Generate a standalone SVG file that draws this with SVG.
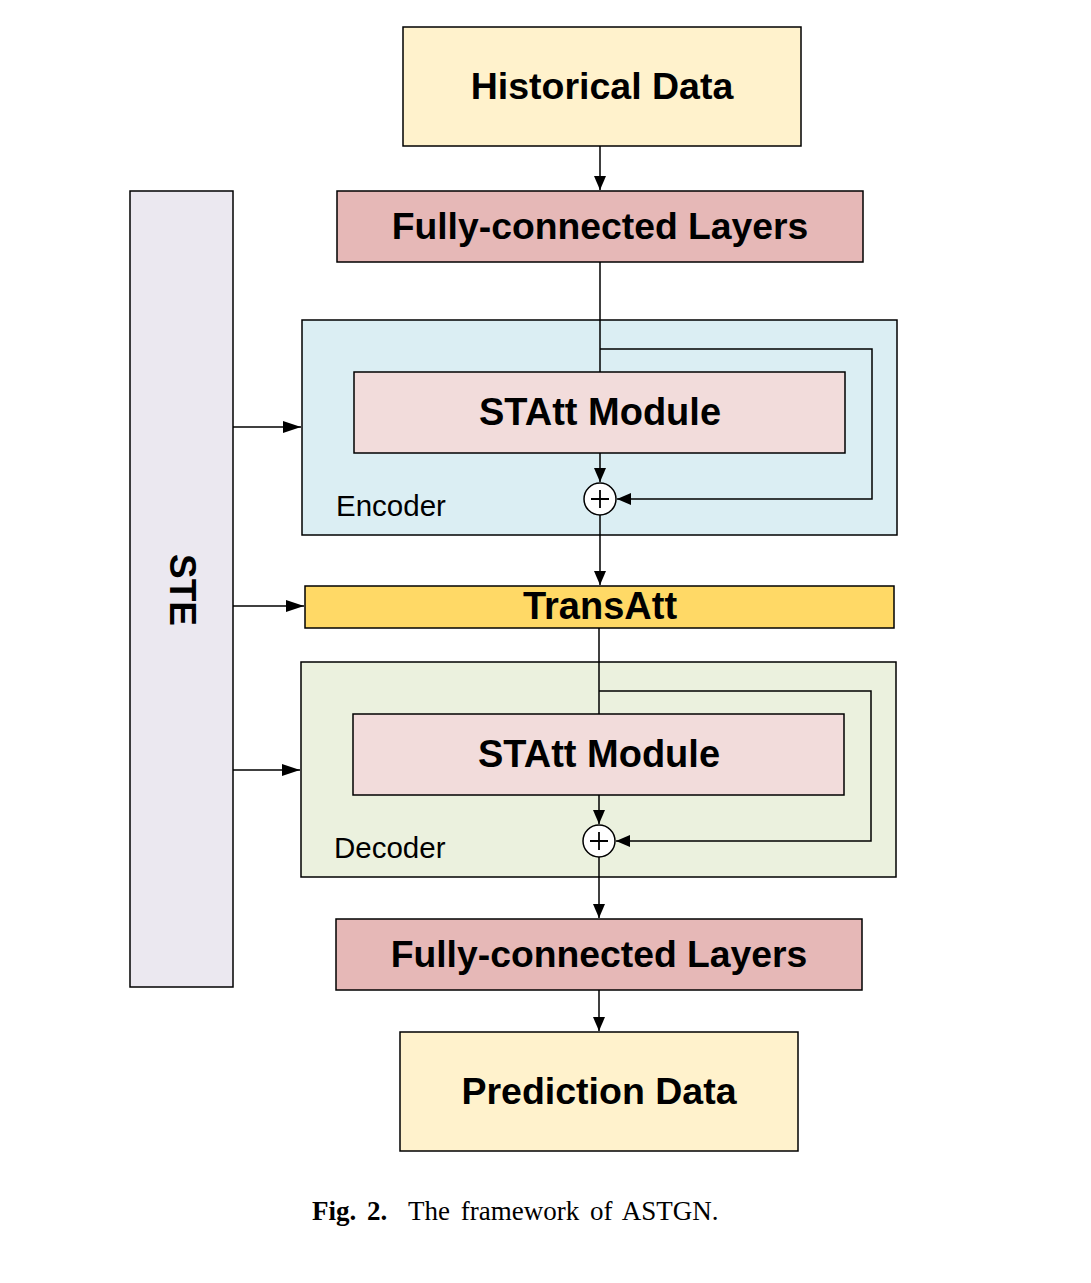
<svg xmlns="http://www.w3.org/2000/svg" width="1091" height="1283" viewBox="0 0 1091 1283">
<defs>
<style>
.box{stroke:#000;stroke-width:1.5}
.t{font-family:"Liberation Sans",Arial,sans-serif;font-weight:bold;text-anchor:middle;dominant-baseline:central;fill:#000}
.lbl{font-family:"Liberation Sans",Arial,sans-serif;font-size:29.5px;fill:#000}
.c{fill:none;stroke:#000;stroke-width:1.5}
.cap{font-family:"Liberation Serif","Times New Roman",serif;font-size:27px;fill:#000;word-spacing:4px}
</style>
<marker id="ah" viewBox="0 0 10 10" refX="10" refY="5" markerWidth="14" markerHeight="12" markerUnits="userSpaceOnUse" orient="auto" preserveAspectRatio="none">
<path d="M0,0 L10,5 L0,10 z" fill="#000"/>
</marker>
<marker id="ahw" viewBox="0 0 10 10" refX="10" refY="5" markerWidth="18" markerHeight="12" markerUnits="userSpaceOnUse" orient="auto" preserveAspectRatio="none">
<path d="M0,0 L10,5 L0,10 z" fill="#000"/>
</marker>
</defs>
<rect width="1091" height="1283" fill="#fff"/>
<g id="ste"><rect class="box" x="130" y="191" width="103" height="796" fill="#ebe8f0"/><text class="t" font-size="37" transform="translate(182,590) rotate(90)">STE</text></g>
<g id="historical"><rect class="box" x="403" y="27" width="398" height="119" fill="#fff2cc"/><text class="t" font-size="37.5" x="602" y="86">Historical Data</text></g>
<g id="fc1"><rect class="box" x="337" y="191" width="526" height="71" fill="#e6b8b7"/><text class="t" font-size="37.3" x="600" y="226">Fully-connected Layers</text></g>
<g id="encoder"><rect class="box" x="302" y="320" width="595" height="215" fill="#dbeef3"/><text class="lbl" x="336" y="516">Encoder</text></g>
<g id="statt1"><rect class="box" x="354" y="372" width="491" height="81" fill="#f2dcdb"/><text class="t" font-size="38" x="600" y="412">STAtt Module</text></g>
<g id="add1"><circle cx="600" cy="499" r="16" fill="#fff" stroke="#000" stroke-width="1.5"/><path d="M591,499 H609 M600,490 V508" stroke="#000" stroke-width="1.8"/></g>
<g id="transatt"><rect class="box" x="305" y="586" width="589" height="42" fill="#ffd966"/><text class="t" font-size="38" x="600" y="606">TransAtt</text></g>
<g id="decoder"><rect class="box" x="301" y="662" width="595" height="215" fill="#ebf1de"/><text class="lbl" x="334" y="858">Decoder</text></g>
<g id="statt2"><rect class="box" x="353" y="714" width="491" height="81" fill="#f2dcdb"/><text class="t" font-size="38" x="599" y="754">STAtt Module</text></g>
<g id="add2"><circle cx="599" cy="841" r="16" fill="#fff" stroke="#000" stroke-width="1.5"/><path d="M590,841 H608 M599,832 V850" stroke="#000" stroke-width="1.8"/></g>
<g id="fc2"><rect class="box" x="336" y="919" width="526" height="71" fill="#e6b8b7"/><text class="t" font-size="37.3" x="599" y="954">Fully-connected Layers</text></g>
<g id="prediction"><rect class="box" x="400" y="1032" width="398" height="119" fill="#fff2cc"/><text class="t" font-size="37.5" x="599" y="1091">Prediction Data</text></g>
<g id="connectors">
<path class="c" d="M600,146 V190" marker-end="url(#ah)"/>
<path class="c" d="M600,262 V372"/>
<path class="c" d="M600,349 H872 V499 H617" marker-end="url(#ah)"/>
<path class="c" d="M600,453 V482" marker-end="url(#ah)"/>
<path class="c" d="M600,515 V585" marker-end="url(#ah)"/>
<path class="c" d="M599,628 V714"/>
<path class="c" d="M599,691 H871 V841 H616" marker-end="url(#ah)"/>
<path class="c" d="M599,795 V824" marker-end="url(#ah)"/>
<path class="c" d="M599,857 V918" marker-end="url(#ah)"/>
<path class="c" d="M599,990 V1031" marker-end="url(#ah)"/>
<path class="c" d="M233,427 H301" marker-end="url(#ahw)"/>
<path class="c" d="M233,606 H304" marker-end="url(#ahw)"/>
<path class="c" d="M233,770 H300" marker-end="url(#ahw)"/>
</g>
<text class="cap" x="312" y="1220"><tspan font-weight="bold">Fig. 2.</tspan><tspan x="408">The framework of ASTGN.</tspan></text>
</svg>
